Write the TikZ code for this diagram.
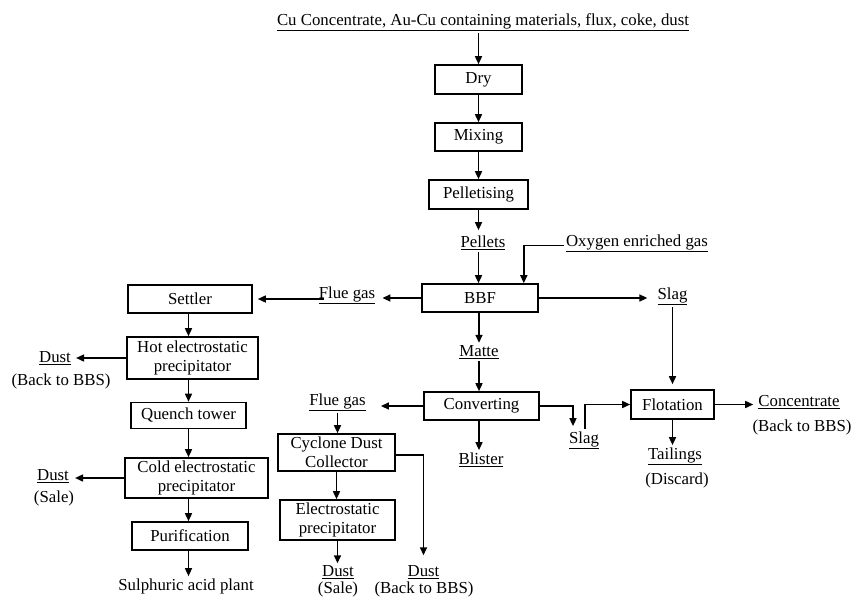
\documentclass[tikz,border=0pt]{standalone}
\usepackage{fontspec}
\setmainfont{Liberation Serif}
\usetikzlibrary{arrows.meta,calc}
\newcommand\myul[1]{\setbox0\hbox{#1}\dimen0=\dp0\advance\dimen0 by 2.6pt\rlap{\rule[-\dimen0]{\wd0}{1.1pt}}\box0}
\begin{document}
\begin{tikzpicture}[x=1pt,y=-1pt,
  every node/.style={font=\fontsize{16.8}{19}\selectfont},
  box/.style={draw,line width=1.6pt,inner sep=0pt,align=center},
  lbl/.style={inner sep=2pt,align=center,anchor=base},
  arr/.style={line width=1.5pt,-{Triangle[length=8pt,width=7pt]}}]
\useasboundingbox (0,0) rectangle (852,598);
% boxes
\node[box,minimum width=87pt,minimum height=29pt] (dry) at (478.5,79.5) {Dry};
\node[box,minimum width=87pt,minimum height=28pt] (mix) at (478.5,137) {Mixing};
\node[box,minimum width=99pt,minimum height=29pt] (pel) at (478.5,194.5) {Pelletising};
\node[box,minimum width=116pt,minimum height=28pt] (bbf) at (480,298) {BBF};
\node[box,minimum width=115pt,minimum height=28pt] (conv) at (481.5,406) {Converting};
\node[box,minimum width=83pt,minimum height=29pt] (flot) at (672.5,404.5) {Flotation};
\node[box,minimum width=124pt,minimum height=28pt] (set) at (190,299) {Settler};
\node[box,minimum width=131pt,minimum height=42pt] (hot) at (192.5,358) {Hot electrostatic\\precipitator};
\node[box,minimum width=115pt,minimum height=26pt] (que) at (188.5,415.5) {Quench tower};
\node[box,minimum width=143pt,minimum height=40pt] (cold) at (196.5,478) {Cold electrostatic\\precipitator};
\node[box,minimum width=116pt,minimum height=28pt] (pur) at (190,536) {Purification};
\node[box,minimum width=117pt,minimum height=37pt] (cyc) at (336.5,452.5) {Cyclone Dust\\Collector};
\node[box,minimum width=115pt,minimum height=40pt] (esp) at (337.5,520) {Electrostatic\\precipitator};
% labels
\node[lbl] (src) at (483,25) {\myul{Cu Concentrate, Au-Cu containing materials, flux, coke, dust}};
\node[lbl] (pels) at (483,247) {\myul{Pellets}};
\node[lbl] (oxy) at (637,246) {\myul{Oxygen enriched gas}};
\node[lbl] (flue1) at (347,298) {\myul{Flue gas}};
\node[lbl] (slag1) at (672.5,299) {\myul{Slag}};
\node[lbl] (matte) at (479,356) {\myul{Matte}};
\node[lbl] (flue2) at (337.5,405) {\myul{Flue gas}};
\node[lbl] (slag2) at (584,443) {\myul{Slag}};
\node[lbl] (blis) at (481,464) {\myul{Blister}};
\node[lbl] (conc) at (799,406) {\myul{Concentrate}};
\node[lbl] (concb) at (802,431) {(Back to BBS)};
\node[lbl] (tail) at (675,459) {\myul{Tailings}};
\node[lbl] (tailb) at (677,484) {(Discard)};
\node[lbl] (dust1) at (55,362.5) {\myul{Dust}};
\node[lbl] (dust1b) at (61,385) {(Back to BBS)};
\node[lbl] (dust2) at (53,480) {\myul{Dust}};
\node[lbl] (dust2b) at (54,502) {(Sale)};
\node[lbl] (acid) at (186,590) {Sulphuric acid plant};
\node[lbl] (dust3) at (338,576.5) {\myul{Dust}};
\node[lbl] (dust3b) at (338,593.5) {(Sale)};
\node[lbl] (dust4) at (423.5,576.5) {\myul{Dust}};
\node[lbl] (dust4b) at (424,593.5) {(Back to BBS)};
% main column
\draw[arr] (dry.north |- src.south) -- (dry.north);
\draw[arr] (dry) -- (mix);
\draw[arr] (mix) -- (pel);
\draw[arr,shorten >=3pt] (pel.south) -- (pel.south |- pels.north);
\draw[arr] (pel.south |- pels.south) -- (pel.south |- bbf.north);
\draw[arr] ([yshift=-2pt]oxy.west) -| ($(bbf.north east)+(-15,0)$);
\draw[arr,shorten >=5pt] (bbf.west) -- (flue1.east |- bbf.west);
\draw[arr,shorten <=-7pt,shorten >=5pt] (flue1.west |- set.east) -- (set.east);
\draw[arr,shorten >=8pt] (bbf.east) -- (slag1.west |- bbf.east);
\draw[arr,shorten >=5pt] (slag1.south) -- (slag1.south |- flot.north);
\draw[arr] (matte.north |- bbf.south) -- (matte.north);
\draw[arr] (matte.south) -- (matte.south |- conv.north);
\draw[arr] (matte.south |- conv.south) -- (matte.south |- blis.north);
\draw[arr,shorten >=13pt] (conv.west) -- (flue2.east |- conv.west);
\draw[arr] (flue2.south) -- (flue2.south |- cyc.north);
\draw[arr] (cyc.south) -- (cyc.south |- esp.north);
\draw[arr] (esp.south) -- (esp.south |- dust3.north);
\draw[arr,shorten >=8pt] ([yshift=-2.5pt]cyc.east) -| (dust4.north);
\draw[arr,shorten >=3pt] (conv.east) -| ($(slag2.north)+(-11,0)$);
\draw[arr] ($(slag2.north)+(1,0)$) |- (flot.west);
\draw[arr,shorten >=3pt] (flot.east) -- (conc.west |- flot.east);
\draw[arr] (flot.south) -- (flot.south |- tail.north);
% left column
\draw[arr] (que.north |- set.south) -- (que.north |- hot.north);
\draw[arr] (que.north |- hot.south) -- (que.north);
\draw[arr] (que.south) -- (que.south |- cold.north);
\draw[arr] (que.south |- cold.south) -- (que.south |- pur.north);
\draw[arr] (que.south |- pur.south) -- (que.south |- acid.north);
\draw[arr,shorten >=3pt] (hot.west) -- (dust1.east |- hot.west);
\draw[arr,shorten >=4pt] (cold.west) -- (dust2.east |- cold.west);
\end{tikzpicture}
\end{document}
